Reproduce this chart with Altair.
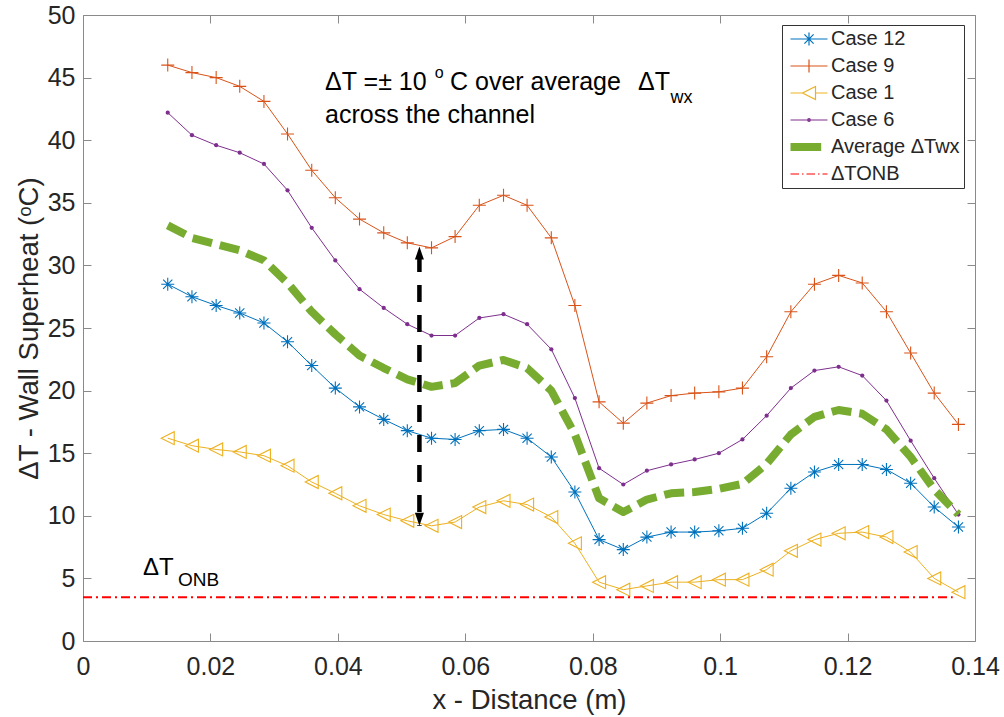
import altair as alt
import pandas as pd

# ---------------- data ----------------
x_pos = [0.0133, 0.0171, 0.0209, 0.0246, 0.0284, 0.0321, 0.0359, 0.0396, 0.0434,
         0.0472, 0.0509, 0.0547, 0.0584, 0.0622, 0.0660, 0.0697, 0.0735, 0.0772,
         0.0810, 0.0848, 0.0885, 0.0923, 0.0960, 0.0998, 0.1035, 0.1073, 0.1111,
         0.1148, 0.1186, 0.1223, 0.1261, 0.1299, 0.1336, 0.1374]

case12 = [28.5, 27.5, 26.8, 26.2, 25.4, 23.9, 22.0, 20.2, 18.7, 17.7, 16.8, 16.2,
          16.1, 16.8, 16.9, 16.2, 14.7, 11.9, 8.1, 7.3, 8.3, 8.7, 8.7, 8.8, 9.0,
          10.2, 12.2, 13.5, 14.1, 14.1, 13.7, 12.6, 10.7, 9.1]
case9 = [46.0, 45.4, 45.0, 44.3, 43.1, 40.5, 37.6, 35.4, 33.7, 32.6, 31.8, 31.4,
         32.3, 34.8, 35.6, 34.8, 32.2, 26.8, 19.1, 17.4, 19.0, 19.6, 19.8, 19.9,
         20.2, 22.7, 26.3, 28.5, 29.2, 28.6, 26.3, 23.0, 19.8, 17.3]
case1 = [16.2, 15.6, 15.3, 15.1, 14.8, 14.0, 12.7, 11.8, 10.8, 10.1, 9.6, 9.2,
         9.5, 10.7, 11.2, 10.9, 9.9, 7.8, 4.7, 4.1, 4.4, 4.7, 4.7, 4.9, 4.9,
         5.7, 7.2, 8.1, 8.6, 8.7, 8.3, 7.1, 5.0, 3.9]
case6 = [42.2, 40.4, 39.6, 39.0, 38.1, 36.0, 33.0, 30.4, 28.1, 26.6, 25.3, 24.4,
         24.4, 25.8, 26.1, 25.3, 23.3, 19.4, 13.8, 12.5, 13.6, 14.1, 14.5, 15.0,
         16.1, 18.0, 20.2, 21.6, 21.9, 21.2, 19.2, 16.0, 13.0, 10.1]
average = [33.2, 32.2, 31.7, 31.2, 30.4, 28.6, 26.3, 24.5, 22.8, 21.8, 20.9, 20.3,
           20.6, 22.0, 22.45, 21.8, 20.0, 16.5, 11.4, 10.3, 11.3, 11.8, 11.9, 12.15,
           12.55, 14.15, 16.5, 17.9, 18.45, 18.15, 16.9, 14.7, 12.1, 10.1]

case_names = ["Case 12", "Case 9", "Case 1", "Case 6"]
legend_labels = ["Case 12", "Case 9", "Case 1", "Case 6", "Average ΔTwx", "ΔTONB"]

onb_value = 3.5
onb_x = [0.0, 0.1365]

arrow_x = 0.0528
arrow_top = 31.5
arrow_bottom = 9.2
arrow_dash_top = 30.83

x_ticks = [0, 0.02, 0.04, 0.06, 0.08, 0.1, 0.12, 0.14]
y_ticks = [0, 5, 10, 15, 20, 25, 30, 35, 40, 45, 50]

ann_text = ["ΔT =± 10", "o", "C over average", "ΔT", "wx", "across the channel", "ΔT", "ONB"]
ann_x = [0.0380, 0.0552, 0.0576, 0.0871, 0.0922, 0.0380, 0.0094, 0.0149]
ann_y = [44.0, 45.0, 44.0, 44.0, 42.96, 41.39, 5.29, 4.36]
ann_size = [25, 16, 25, 25, 18, 25, 24, 19]

# ---------------- styling ----------------
FONT = "Liberation Sans"
TXT = "#262626"
AX = "#8a8a8a"
colors = ["#0072BD", "#D95319", "#EDB120", "#7E2F8E", "#77AC30", "#FF0000"]

marker_paths = {
    "Case 12": "M-6.5,0H6.5M0,-6.5V6.5M-4.6,-4.6L4.6,4.6M-4.6,4.6L4.6,-4.6",
    "Case 9": "M-6.5,0H6.5M0,-6.5V6.5",
    "Case 1": "M-6.5,0L6.5,-6.5L6.5,6.5Z",
}
bar = "".join("M-18.5,%sH12.2" % v for v in ["-3.5", "-2.5", "-1.5", "-0.5", "0.5", "1.5", "2.5", "3.5"])
legend_paths = [
    "M-18.5,0H18.5" + marker_paths["Case 12"],
    "M-18.5,0H18.5M0,-6.5V6.5",
    "M-18.5,0H-6.5M6.5,0H18.5" + marker_paths["Case 1"],
    "M-18.5,0H18.5M-1.3,0A1.3,1.3 0 1,0 1.3,0A1.3,1.3 0 1,0 -1.3,0",
    bar,
    "M-18.5,0H-10M-7,0H-5.5M-2.5,0H6M9,0H10.5M13.5,0H18.5",
]

# ---------------- tables ----------------
rows = []
for name, vals in zip(case_names + ["Average"], [case12, case9, case1, case6, average]):
    for xv, yv in zip(x_pos, vals):
        rows.append({"series": name, "x": xv, "y": yv})
curves = pd.DataFrame(rows)

onb_df = pd.DataFrame({"x": [onb_x[0]], "x2": [onb_x[1]], "y": [onb_value]})
arrow_df = pd.DataFrame({"x": [arrow_x], "y": [arrow_dash_top], "y2": [arrow_bottom]})
ann_df = pd.DataFrame({"x": ann_x, "y": ann_y, "t": ann_text, "fs": ann_size})
legend_df = pd.DataFrame({"label": legend_labels})

xs = alt.Scale(domain=[0, 0.14], nice=False, zero=False)
ys = alt.Scale(domain=[0, 50], nice=False, zero=False)


def X(field="x", axis=None):
    return alt.X(f"{field}:Q", scale=xs, axis=axis)


def Y(field="y", axis=None):
    return alt.Y(f"{field}:Q", scale=ys, axis=axis)


common_ax = dict(tickSize=8, offset=-8, tickColor=AX, tickWidth=1, domain=False, grid=False,
                 labelFont=FONT, labelColor=TXT, labelFontSize=25, titleFont=FONT,
                 titleColor=TXT, titleFontSize=27.5, titleFontWeight="normal",
                 labelFlush=False, labelOverlap=False, labelBound=False)

x_bottom = alt.Axis(orient="bottom", values=x_ticks, format=".2~f", labelBaseline="alphabetic",
                    labelPadding=33, title="x - Distance (m)", titleY=75,
                    titleBaseline="alphabetic", **common_ax)
y_left = alt.Axis(orient="left", values=y_ticks, format="d", labelPadding=8,
                  title="ΔT - Wall Superheat (ᵒC)", titleX=-54, titleY=313, titleAngle=270,
                  titleAlign="center", titleBaseline="alphabetic", **common_ax)
x_top = alt.Axis(orient="top", values=x_ticks, labels=False, title=None, **common_ax)
y_right = alt.Axis(orient="right", values=y_ticks, labels=False, title=None, **common_ax)

base = alt.Chart(curves)
layers = []
first = True
for name, col in zip(case_names, colors[:4]):
    sub = base.transform_filter(alt.datum.series == name)
    line = sub.mark_line(color=col, strokeWidth=1).encode(
        x=X(axis=x_bottom if first else None), y=Y(axis=y_left if first else None),
        order="x:Q")
    first = False
    if name == "Case 6":
        pts = sub.mark_point(color=col, filled=True, shape="circle", size=18, opacity=1).encode(x=X(), y=Y())
    else:
        pts = sub.mark_point(color=col, filled=False, shape=marker_paths[name], size=4,
                             strokeWidth=1.1, opacity=1).encode(x=X(), y=Y())
    layers += [line, pts]

avg_line = base.transform_filter(alt.datum.series == "Average").mark_line(
    color=colors[4], strokeWidth=8, strokeDash=[20, 8], strokeCap="butt", strokeJoin="round"
).encode(x=X(), y=Y(), order="x:Q")
layers.append(avg_line)

onb = alt.Chart(onb_df).mark_rule(color=colors[5], strokeWidth=2, strokeDash=[9, 4, 2, 4]).encode(
    x=X(axis=x_top), x2="x2:Q", y=Y(axis=y_right))
layers.append(onb)

arrow = alt.Chart(arrow_df).mark_rule(color="black", strokeWidth=4.5, strokeDash=[17, 13]).encode(
    x=X(), y=Y(), y2="y2:Q")
head_up = alt.Chart(pd.DataFrame({"x": [arrow_x], "y": [arrow_top]})).mark_point(
    shape="M0,0L4.5,13L-4.5,13Z", size=4, filled=True, color="black", opacity=1).encode(x=X(), y=Y())
head_dn = alt.Chart(pd.DataFrame({"x": [arrow_x], "y": [arrow_bottom]})).mark_point(
    shape="M0,0L4.5,-13L-4.5,-13Z", size=4, filled=True, color="black", opacity=1).encode(x=X(), y=Y())
layers += [arrow, head_up, head_dn]

ann = alt.Chart(ann_df).mark_text(align="left", baseline="alphabetic", font=FONT, color="black").encode(
    x=X(), y=Y(), text="t:N", size=alt.Size("fs:Q", scale=None, legend=None))
layers.append(ann)

leg = alt.Legend(title=None, orient="none", legendX=699, legendY=10, padding=4,
                 symbolOffset=13, labelOffset=12, rowPadding=7, symbolSize=4,
                 symbolStrokeWidth=1.2, symbolOpacity=1, labelFontSize=20, labelFont=FONT,
                 labelColor=TXT, strokeColor="#333333", fillColor="white", labelLimit=400)
legend_layer = alt.Chart(legend_df).mark_point(filled=False, opacity=0).encode(
    color=alt.Color("label:N", scale=alt.Scale(domain=legend_labels, range=colors), legend=leg),
    shape=alt.Shape("label:N", scale=alt.Scale(domain=legend_labels, range=legend_paths), legend=leg),
)
layers.append(legend_layer)

chart = alt.layer(*layers).properties(
    width=892, height=626,
    padding={"left": 83, "top": 15, "right": 29, "bottom": 76},
    autosize=alt.AutoSizeParams(type="none"),
    background="white",
).configure_view(stroke=AX, strokeWidth=1)

chart.save("out.html", embed_options={"renderer": "svg", "actions": False})
